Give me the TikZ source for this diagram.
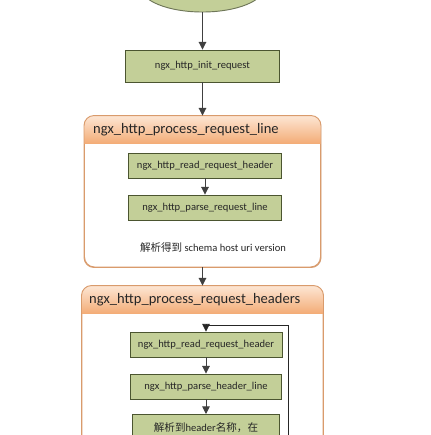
\documentclass[tikz,border=0pt]{standalone}
\usepackage{fontspec}
\setmainfont{Carlito}
\newfontfamily\cjk{Noto Sans CJK SC}
\usetikzlibrary{arrows.meta,shapes.geometric,shadows,calc}
\definecolor{boxgreen}{HTML}{C3CF98}
\definecolor{boxedge}{HTML}{4B5530}
\definecolor{bandtop}{HTML}{FDE6D4}
\definecolor{bandbot}{HTML}{F3AC76}
\definecolor{frameedge}{HTML}{D99B6C}
\tikzset{
  func/.style = {% green box for one function call
    rectangle,
    draw=boxedge,
    fill=boxgreen,
    line width=0.8pt,
    minimum width=#1,
    minimum height=0.75cm,
    inner sep=0pt,
    font=\fontsize{9}{11}\selectfont,
    text=black!85,
    drop shadow={opacity=0.25,shadow xshift=0.6pt,shadow yshift=-0.6pt},
  },
  func/.default = {4.59cm},
  stage/.style = {% rounded frame of one processing stage
    rectangle,
    rounded corners=8.5pt,
    draw=frameedge,
    fill=white,
    line width=0.8pt,
    inner sep=0pt,
    drop shadow={opacity=0.25,shadow xshift=0.8pt,shadow yshift=-0.8pt},
  },
  title/.style = {font=\fontsize{12.4}{14}\selectfont, text=black!85, anchor=west, inner sep=0pt},
  arr/.style = {draw=black!75, line width=0.8pt, -{Triangle[length=6.5pt,width=6.5pt]}},
}

\begin{document}
\begin{tikzpicture}[x=0.03cm, y=-0.03cm]
  \useasboundingbox (0,0) rectangle (431,435);
  \clip (0,0) rectangle (431,435);

  % start and init
  \node[ellipse, draw=boxedge!80, fill=boxgreen, line width=0.8pt,
        minimum width=3.72cm, minimum height=1.5cm] (start) at (202.5,-13) {};
  \node[func=4.62cm, minimum height=0.96cm] (init) at (202.5,66) {ngx\_http\_init\_request};

  % stage 1: request line
  \node[stage, minimum width=7.08cm, minimum height=4.53cm] (line) at (202.5,191.5) {};
  \begin{scope}
    \clip[rounded corners=8.5pt] (line.north west) rectangle (line.south east);
    \shade[top color=bandtop, bottom color=bandbot] (line.north west) rectangle ($(line.north east)+(0,28)$);
  \end{scope}
  \draw[rounded corners=8.5pt, draw=frameedge, line width=0.8pt] (line.north west) rectangle (line.south east);
  \node[title] (linetitle) at (93,130) {ngx\_http\_process\_request\_line};
  \node[func] (lread) at (205,165.5) {ngx\_http\_read\_request\_header};
  \node[func] (lparse) at (205,207.5) {ngx\_http\_parse\_request\_line};
  \node[font=\fontsize{9}{11}\selectfont, text=black!85] (lnote) at (213,247)
    {{\cjk 解析得到} schema host uri version};

  % stage 2: request headers
  \node[stage, minimum width=7.23cm, minimum height=5.52cm] (headers) at (202.5,378) {};
  \begin{scope}
    \clip[rounded corners=8.5pt] (headers.north west) rectangle (headers.south east);
    \shade[top color=bandtop, bottom color=bandbot] (headers.north west) rectangle ($(headers.north east)+(0,28)$);
  \end{scope}
  \draw[rounded corners=8.5pt, draw=frameedge, line width=0.8pt] (headers.north west) rectangle (headers.south east);
  \node[title] (hdrtitle) at (89,300) {ngx\_http\_process\_request\_headers};
  \node[func=4.56cm] (hread) at (206,344.5) {ngx\_http\_read\_request\_header};
  \node[func=4.53cm] (hparse) at (206,386.5) {ngx\_http\_parse\_header\_line};
  \node[func=4.41cm, anchor=north, text depth=1cm, inner ysep=7pt] (hname) at (206,414)
    {{\cjk 解析到}header{\cjk 名称，在}};

  % connectors
  \draw[arr] (start) -- (init);
  \draw[arr] (init) -- (line.north);
  \draw[arr] (lread) -- (lparse);
  \draw[arr] (line.south) -- (headers.north);
  \draw[arr] (hread) -- (hparse);
  \draw[arr] (hparse) -- (hname);
  \coordinate (back) at (288,440);
  \coordinate (loop) at (hread.north |- 0,325);
  \draw[arr, draw=black!85, line width=0.7pt] (back) |- (loop) -- (hread.north);
\end{tikzpicture}
\end{document}
